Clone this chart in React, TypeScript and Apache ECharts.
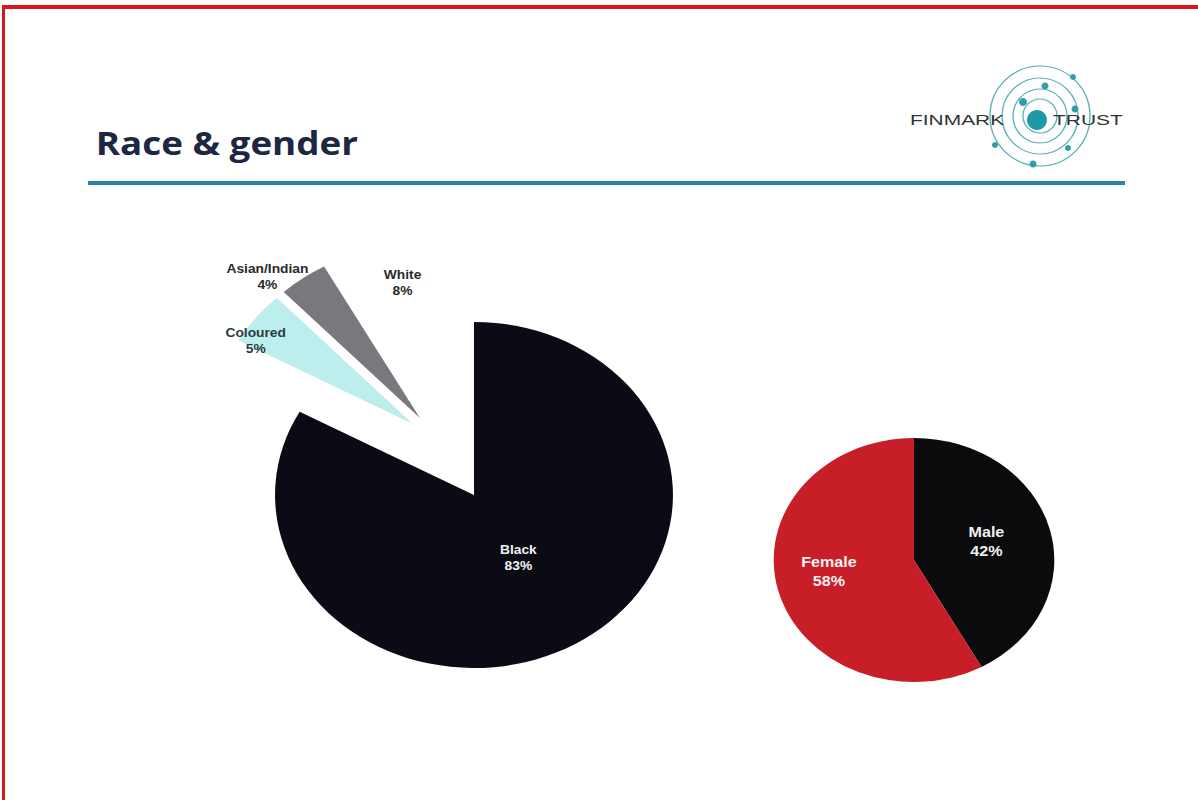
import React, { useEffect, useRef } from "react";
import * as echarts from "echarts";

// ---- data ----
const raceCategories = ["Black", "Coloured", "Asian/Indian", "White"];
const raceValues = [83, 5, 4, 8];
const raceColors = ["#0b0b16", "#bdeeee", "#78787e", "#ffffff"];
const raceLabelColors = ["#f2f2f2", "#2b3a40", "#2a2a2a", "#2a2a2a"];
const raceExploded = [false, true, true, true];

const genderCategories = ["Male", "Female"];
const genderValues = [42, 58];
const genderColors = ["#0b0b0d", "#c81e28"];

const titleText = "Race & gender";

// horizontal stretch of the original slide picture
const SX = 1.15;
const W = 1198;
const H = 800;
const CW = Math.round(W / SX);

// label nudges (chart units) relative to the library's "inside" label position
const labelNudge: Record<string, [number, number]> = {
  Black: [-7, -14],
  Coloured: [-66, -28],
  "Asian/Indian": [-80, -69],
  White: [-3, -44],
  Male: [1, -3],
  Female: [-12, -5],
};

export default function App() {
  const ref = useRef<HTMLDivElement>(null);

  useEffect(() => {
    if (!ref.current) return;
    const chart = echarts.init(ref.current, undefined, { renderer: "svg" });

    const rx = (x: number) => x / SX;

    // main body (not exploded) and exploded group share the same values
    const raceDataFor = (exploded: boolean) =>
      raceCategories.map((name, i) => {
        const visible = raceExploded[i] === exploded;
        return {
          name,
          value: raceValues[i],
          selected: exploded && visible,
          itemStyle: { color: visible ? raceColors[i] : "rgba(0,0,0,0)" },
          label: { show: visible, color: raceLabelColors[i] },
        };
      });
    const genderData = genderCategories.map((name, i) => ({
      name,
      value: genderValues[i],
      itemStyle: { color: genderColors[i] },
    }));

    const teal = "#2f9fa8";
    const dots: [number, number, number][] = [
      [1073, 77, 3],
      [1045, 86, 3.5],
      [1023, 102, 4],
      [1075, 109, 3.5],
      [995, 145, 3],
      [1068, 148, 3],
      [1033, 164, 3.5],
    ];
    const rings = [17, 27, 38, 50];

    const raceCenter = [rx(474), 495];
    const explodeShift = [-29.4, -52.7];

    const raceLabel = {
      show: true,
      position: "inside",
      formatter: "{b}\n{c}%",
      fontFamily: "Liberation Sans",
      fontWeight: "bold",
      fontSize: 12,
      lineHeight: 16,
    };
    const raceLayout = (p: any) => {
      const n = labelNudge[raceCategories[p.dataIndex]] || [0, 0];
      return { dx: n[0], dy: n[1] };
    };

    chart.setOption({
      animation: false,
      backgroundColor: "#ffffff",
      title: {
        text: titleText,
        left: rx(90),
        top: 121,
        textStyle: {
          fontFamily: "Open Sans",
          fontWeight: "bold",
          fontSize: 32,
          color: "#1d2743",
        },
      },
      graphic: [
        // slide frame
        { type: "rect", shape: { x: rx(3), y: 5, width: CW, height: 4 }, style: { fill: "#d8171d" } },
        { type: "rect", shape: { x: rx(2), y: 5, width: rx(3), height: H }, style: { fill: "#d8171d" } },
        // title underline
        { type: "rect", shape: { x: rx(88), y: 181, width: rx(1125 - 88), height: 4 }, style: { fill: "#2784b0" } },
        // logo
        ...rings.map((r) => ({
          type: "ellipse",
          shape: { cx: rx(1040), cy: 116, rx: rx(r), ry: r },
          style: { fill: "none", stroke: teal, lineWidth: 1.2, opacity: 0.8 },
        })),
        {
          type: "ellipse",
          shape: { cx: rx(1037), cy: 120, rx: rx(10), ry: 10 },
          style: { fill: "#1d9aa6" },
        },
        ...dots.map(([x, y, r]) => ({
          type: "ellipse",
          shape: { cx: rx(x), cy: y, rx: rx(r), ry: r },
          style: { fill: teal },
        })),
        {
          type: "text",
          x: rx(910),
          y: 120,
          style: {
            text: "FINMARK",
            fontFamily: "Liberation Sans",
            fontSize: 14,
            fill: "#333333",
            textVerticalAlign: "middle",
          },
          scaleX: 1.3,
        },
        {
          type: "text",
          x: rx(1053),
          y: 120,
          style: {
            text: "TRUST",
            fontFamily: "Liberation Sans",
            fontSize: 14,
            fill: "#333333",
            textVerticalAlign: "middle",
          },
          scaleX: 1.3,
        },
      ],
      series: [
        {
          type: "pie",
          name: "Race",
          center: raceCenter,
          radius: 173,
          startAngle: 90,
          clockwise: true,
          silent: true,
          avoidLabelOverlap: false,
          emphasis: { disabled: true },
          label: raceLabel,
          labelLine: { show: false },
          labelLayout: raceLayout,
          data: raceDataFor(false),
        },
        {
          type: "pie",
          name: "Race (exploded)",
          center: [raceCenter[0] + explodeShift[0], raceCenter[1] + explodeShift[1]],
          radius: 173,
          startAngle: 90,
          clockwise: true,
          selectedMode: "multiple",
          selectedOffset: 30,
          select: { itemStyle: {} },
          avoidLabelOverlap: false,
          emphasis: { disabled: true },
          label: raceLabel,
          labelLine: { show: false },
          labelLayout: raceLayout,
          data: raceDataFor(true),
        },
        {
          type: "pie",
          name: "Gender",
          center: [rx(914), 560],
          radius: 122,
          startAngle: 90,
          clockwise: true,
          silent: true,
          emphasis: { disabled: true },
          avoidLabelOverlap: false,
          label: {
            show: true,
            position: "inside",
            formatter: "{b}\n{c}%",
            fontFamily: "Liberation Sans",
            fontWeight: "bold",
            fontSize: 14,
            lineHeight: 19,
            color: "#f0f0f0",
          },
          labelLine: { show: false },
          labelLayout: (p: any) => {
            const n = labelNudge[genderCategories[p.dataIndex]] || [0, 0];
            return { dx: n[0], dy: n[1] };
          },
          data: genderData,
        },
      ],
    });

    return () => chart.dispose();
  }, []);

  return (
    <div
      style={{
        position: "absolute",
        left: 0,
        top: 0,
        width: W,
        height: H,
        overflow: "hidden",
        background: "#ffffff",
      }}
    >
      <div
        ref={ref}
        style={{
          width: CW,
          height: H,
          transform: `scaleX(${SX})`,
          transformOrigin: "0 0",
        }}
      />
    </div>
  );
}
